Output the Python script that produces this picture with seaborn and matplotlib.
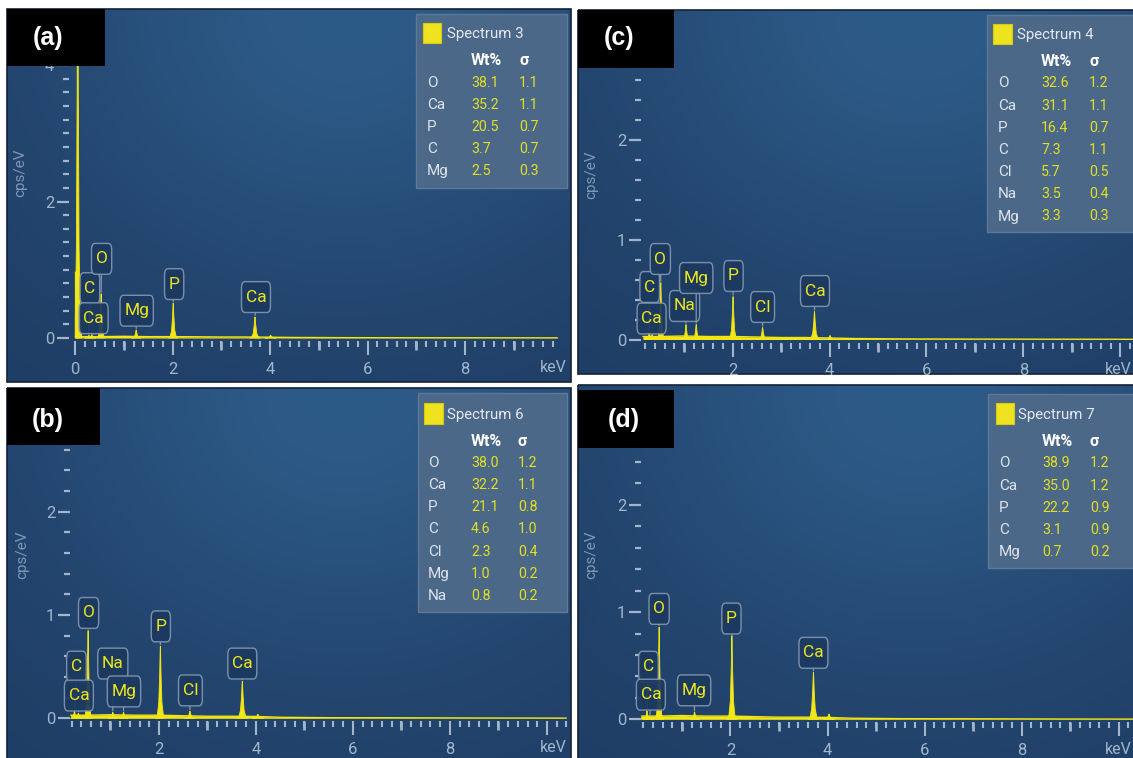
import numpy as np
import matplotlib
matplotlib.use("Agg")
import matplotlib.pyplot as plt
import matplotlib.transforms as mtransforms
from matplotlib.patches import Rectangle
from matplotlib.ticker import MultipleLocator, FuncFormatter
import seaborn as sns

sns.set_style("white")
plt.rcParams["font.family"] = ["Roboto", "DejaVu Sans"]

# ---------------- (a) Spectrum 3 ----------------
a_title = "Spectrum 3"
a_line_kev = [0.00, 0.05, 0.28, 0.34, 0.53, 1.25, 2.01, 3.69, 4.01]
a_line_cps = [0.97, 6.00, 0.04, 0.05, 0.65, 0.12, 0.51, 0.31, 0.04]
a_line_name = ["", "", "C", "Ca", "O", "Mg", "P", "Ca", ""]
a_bg_kev = [0.0, 0.5, 1.0, 1.5, 2.0, 2.5, 3.0, 3.5, 4.0, 4.5, 5.5, 7.0, 8.5, 9.9]
a_bg_cps = [0.02, 0.02, 0.025, 0.02, 0.02, 0.018, 0.015, 0.015, 0.012, 0.008, 0.005, 0.004, 0.003, 0.002]
a_elements = ["O", "Ca", "P", "C", "Mg"]
a_wt = [38.1, 35.2, 20.5, 3.7, 2.5]
a_sigma = [1.1, 1.1, 0.7, 0.7, 0.3]

# ---------------- (c) Spectrum 4 ----------------
c_title = "Spectrum 4"
c_line_kev = [0.28, 0.34, 0.52, 1.04, 1.25, 2.01, 2.62, 3.69, 4.01]
c_line_cps = [0.08, 0.05, 0.57, 0.15, 0.15, 0.43, 0.12, 0.28, 0.04]
c_line_name = ["C", "Ca", "O", "Na", "Mg", "P", "Cl", "Ca", ""]
c_bg_kev = [0.15, 0.5, 1.0, 1.5, 2.0, 2.5, 3.0, 3.5, 4.0, 4.5, 5.5, 7.0, 8.5, 10.3]
c_bg_cps = [0.03, 0.03, 0.035, 0.03, 0.03, 0.025, 0.02, 0.02, 0.015, 0.01, 0.006, 0.004, 0.003, 0.002]
c_elements = ["O", "Ca", "P", "C", "Cl", "Na", "Mg"]
c_wt = [32.6, 31.1, 16.4, 7.3, 5.7, 3.5, 3.3]
c_sigma = [1.2, 1.1, 0.7, 1.1, 0.5, 0.4, 0.3]

# ---------------- (b) Spectrum 6 ----------------
b_title = "Spectrum 6"
b_line_kev = [0.26, 0.34, 0.54, 1.05, 1.27, 2.03, 2.64, 3.72, 4.04]
b_line_cps = [0.07, 0.05, 0.85, 0.06, 0.06, 0.70, 0.07, 0.36, 0.04]
b_line_name = ["C", "Ca", "O", "Na", "Mg", "P", "Cl", "Ca", ""]
b_bg_kev = [0.18, 0.5, 1.0, 1.5, 2.0, 2.5, 3.0, 3.5, 4.0, 4.5, 5.5, 7.0, 8.5, 10.4]
b_bg_cps = [0.03, 0.03, 0.035, 0.03, 0.03, 0.025, 0.02, 0.02, 0.018, 0.01, 0.006, 0.005, 0.003, 0.002]
b_elements = ["O", "Ca", "P", "C", "Cl", "Mg", "Na"]
b_wt = [38.0, 32.2, 21.1, 4.6, 2.3, 1.0, 0.8]
b_sigma = [1.2, 1.1, 0.8, 1.0, 0.4, 0.2, 0.2]

# ---------------- (d) Spectrum 7 ----------------
d_title = "Spectrum 7"
d_line_kev = [0.28, 0.34, 0.53, 1.26, 2.03, 3.71, 4.03]
d_line_cps = [0.08, 0.03, 0.86, 0.07, 0.78, 0.44, 0.05]
d_line_name = ["C", "Ca", "O", "Mg", "P", "Ca", ""]
d_bg_kev = [0.15, 0.5, 1.0, 1.5, 2.0, 2.5, 3.0, 3.5, 4.0, 4.5, 5.5, 7.0, 8.5, 10.3]
d_bg_cps = [0.03, 0.03, 0.035, 0.03, 0.03, 0.025, 0.02, 0.02, 0.018, 0.01, 0.006, 0.005, 0.003, 0.002]
d_elements = ["O", "Ca", "P", "C", "Mg"]
d_wt = [38.9, 35.0, 22.2, 3.1, 0.7]
d_sigma = [1.2, 1.2, 0.9, 0.9, 0.2]

# ---------------- styling ----------------
FIG_W, FIG_H = 1133, 758
YELLOW = "#f2e614"
LABEL_YELLOW = "#ece51c"
TICK = "#a3b5ca"
YLABEL = "#7d98b5"
CALLOUT_FC = "#1c3a60"
CALLOUT_EC = "#8397ae"
TABLE_BG = "#4b6889"
TABLE_EDGE = "#5d7898"
VALUE_YELLOW = "#e3df22"
NAME_GREY = "#dce3eb"

# spike outline used for every emission line (relative units)
SHAPE_X = np.array([-1, -0.6, -0.32, -0.14, -0.04, 0, 0.04, 0.14, 0.32, 0.6, 1])
SHAPE_Y = np.array([0, 0.05, 0.22, 0.6, 0.93, 1, 0.93, 0.6, 0.22, 0.05, 0])

LAYOUT = {
    "a": dict(frame=(7, 9, 571, 382), tag=(7, 9, 105, 66), tag_xy=(33, 38.5),
              zero_px=(75.3, 338.0), scale=(48.7, 68.25), axes_px=(69, 30, 558, 341), ymajor=2,
              ylabel_xy=(20, 173), kev_xy=(567, 368),
              table_box=(416, 14, 567, 188), swatch=(423, 23, 441, 43), title_xy=(447, 34),
              header_y=60.5, row0=82.7, row_step=22.1, cols=(427, 471, 519),
              boxes=[(0.30, 0.73), (0.376, 0.29), (0.54, 1.16), (1.26, 0.40), (2.03, 0.79), (3.71, 0.60)]),
    "c": dict(frame=(578, 10, 1140, 374), tag=(578, 10, 674, 68), tag_xy=(604, 38.5),
              zero_px=(635.6, 339.5), scale=(48.48, 100.0), axes_px=(641, 70, 1133, 342.5), ymajor=1,
              ylabel_xy=(591.5, 175), kev_xy=(1132, 370),
              table_box=(987, 15, 1140, 232), swatch=(993, 24, 1012, 44), title_xy=(1017, 35),
              header_y=61.7, row0=83.3, row_step=22.2, cols=(998, 1041, 1089),
              boxes=[(0.29, 0.525), (0.33, 0.21), (0.51, 0.805), (1.01, 0.335), (1.25, 0.615),
                     (2.02, 0.635), (2.62, 0.325), (3.70, 0.485)]),
    "b": dict(frame=(7, 388, 571, 762), tag=(7, 388, 100, 445), tag_xy=(32, 420),
              zero_px=(61.9, 718.3), scale=(48.5, 103.3), axes_px=(70, 447, 568, 721.3), ymajor=1,
              ylabel_xy=(22, 555), kev_xy=(567, 748),
              table_box=(418, 393, 567, 612), swatch=(424, 403, 443, 424), title_xy=(447, 415),
              header_y=441, row0=462.7, row_step=22.2, cols=(428, 471, 518),
              boxes=[(0.30, 0.50), (0.35, 0.22), (0.55, 1.02), (1.05, 0.53), (1.28, 0.26),
                     (2.04, 0.89), (2.65, 0.27), (3.72, 0.53)]),
    "d": dict(frame=(578, 385, 1140, 762), tag=(578, 390, 674, 448), tag_xy=(607.7, 420),
              zero_px=(633.4, 719.3), scale=(48.53, 107.2), axes_px=(641, 450, 1133, 722.3), ymajor=1,
              ylabel_xy=(591.5, 555), kev_xy=(1132, 749),
              table_box=(988, 394, 1140, 568), swatch=(995.5, 403, 1014, 424), title_xy=(1018, 415),
              header_y=441.7, row0=463.3, row_step=22.25, cols=(999, 1042, 1090),
              boxes=[(0.31, 0.49), (0.36, 0.23), (0.53, 1.03), (1.25, 0.27), (2.02, 0.94), (3.71, 0.62)]),
}

PANELS = [
    ("a", a_title, a_line_kev, a_line_cps, a_line_name, a_bg_kev, a_bg_cps, a_elements, a_wt, a_sigma),
    ("c", c_title, c_line_kev, c_line_cps, c_line_name, c_bg_kev, c_bg_cps, c_elements, c_wt, c_sigma),
    ("b", b_title, b_line_kev, b_line_cps, b_line_name, b_bg_kev, b_bg_cps, b_elements, b_wt, b_sigma),
    ("d", d_title, d_line_kev, d_line_cps, d_line_name, d_bg_kev, d_bg_cps, d_elements, d_wt, d_sigma),
]

fig = plt.figure(figsize=(FIG_W / 100, FIG_H / 100), dpi=100)
fig.patch.set_facecolor("white")

bg = fig.add_axes([0, 0, 1, 1], zorder=0)
ov = fig.add_axes([0, 0, 1, 1], zorder=3)


def panel_gradient(w, h):
    u = np.linspace(0, 1, w)[None, :]
    v = np.linspace(0, 1, h)[:, None]
    glow = np.exp(-((u - 0.6) ** 2) / 0.3 - (v ** 2) / 0.55)
    dark = np.array([31, 61, 101]) / 255.0
    light = np.array([45, 91, 136]) / 255.0
    return dark + (light - dark) * glow[..., None]


for key, title, line_kev, line_cps, line_name, bg_kev, bg_cps, elements, wt, sigma in PANELS:
    cfg = LAYOUT[key]

    # panel background and frame
    fx0, fy0, fx1, fy1 = cfg["frame"]
    img = panel_gradient(int(fx1 - fx0), int(fy1 - fy0))
    bg.imshow(img, extent=(fx0, fx1, fy1, fy0), interpolation="bilinear", aspect="auto", zorder=0)
    bg.add_patch(Rectangle((fx0, fy0), fx1 - fx0, fy1 - fy0, fc="none", ec="#13233a", lw=1.2, zorder=1))

    # spectrum axes
    L, T, R, B = cfg["axes_px"]
    x0, y0 = cfg["zero_px"]
    kx, ky = cfg["scale"]
    ax = fig.add_axes([L / FIG_W, 1 - B / FIG_H, (R - L) / FIG_W, (B - T) / FIG_H], zorder=1)
    ax.patch.set_alpha(0)
    xlim = ((L - x0) / kx, (R - x0) / kx)
    ylim = ((y0 - B) / ky, (y0 - T) / ky)

    # continuum under the lines
    ax.fill_between(bg_kev, 0, bg_cps, color=YELLOW, lw=0, zorder=2)
    sns.lineplot(x=bg_kev, y=bg_cps, ax=ax, color=YELLOW, linewidth=1.0, zorder=2)

    # emission lines
    start = bg_kev[0]
    for e, h in zip(line_kev, line_cps):
        hw = 0.085 + 0.008 * e
        xs = np.clip(e + hw * SHAPE_X, start, None)
        ax.fill(xs, h * SHAPE_Y, color=YELLOW, lw=0.6, zorder=3)

    # callout labels
    labelled = [(n, e, h) for n, e, h in zip(line_name, line_kev, line_cps) if n]
    for (name, e, h), (lx, ly) in zip(labelled, cfg["boxes"]):
        ann = ax.annotate(name, xy=(e, h), xytext=(lx, ly), textcoords="data",
                          ha="center", va="center", fontsize=12.5, color=LABEL_YELLOW,
                          bbox=dict(boxstyle="round,pad=0.24,rounding_size=0.2",
                                    mutation_aspect=1.9,
                                    fc=CALLOUT_FC, ec=CALLOUT_EC, lw=1.0, alpha=0.93),
                          arrowprops=dict(arrowstyle="-", color=CALLOUT_EC, lw=0.9,
                                          shrinkA=0, shrinkB=1),
                          annotation_clip=False, zorder=5)
        ann.set_clip_on(True)

    # axes decorations
    for s in ax.spines.values():
        s.set_visible(False)
    ax.set_xlim(*xlim)
    ax.set_ylim(*ylim)
    ax.xaxis.set_major_locator(MultipleLocator(2))
    ax.xaxis.set_minor_locator(MultipleLocator(0.2))
    ax.xaxis.set_major_formatter(FuncFormatter(lambda v, p: f"{v:g}" if v < 9 else ""))
    ax.yaxis.set_major_locator(MultipleLocator(cfg["ymajor"]))
    ax.yaxis.set_minor_locator(MultipleLocator(0.2))
    ax.yaxis.set_major_formatter(FuncFormatter(lambda v, p: f"{v:g}"))
    ax.tick_params(axis="both", which="both", bottom=True, left=True, top=False, right=False)
    ax.tick_params(axis="x", which="major", direction="out", length=10, width=1.5,
                   color=TICK, labelcolor=TICK, labelsize=12, pad=5)
    ax.tick_params(axis="x", which="minor", direction="out", length=4.3, width=1.5, color=TICK)
    ax.tick_params(axis="y", which="major", direction="out", length=8.6, width=1.6,
                   color=TICK, labelcolor=TICK, labelsize=12, pad=2)
    ax.tick_params(axis="y", which="minor", direction="out", length=4.6, width=1.6, color=TICK)
    ax.set_xlabel("")
    ax.set_ylabel("")

    # medium ticks on odd keV
    trans = mtransforms.blended_transform_factory(ax.transData, ax.transAxes)
    odd = [v for v in range(1, 12, 2) if xlim[0] <= v <= xlim[1]]
    ax.vlines(odd, 0, -9.0 / (B - T), transform=trans, colors=TICK, lw=2.0, clip_on=False)
    ax.set_xlim(*xlim)
    ax.set_ylim(*ylim)

    # y label and unit
    ov.text(*cfg["ylabel_xy"], "cps/eV", rotation=90, ha="center", va="center",
            fontsize=11, color=YLABEL)
    ov.text(*cfg["kev_xy"], "keV", ha="right", va="center", fontsize=11.5, color=TICK)

    # panel tag
    tx0, ty0, tx1, ty1 = cfg["tag"]
    ov.add_patch(Rectangle((tx0, ty0), tx1 - tx0, ty1 - ty0, fc="black", ec="none"))
    ov.text(*cfg["tag_xy"], f"({key})", ha="left", va="center", fontsize=18,
            fontweight="bold", color="white", family=["Liberation Sans", "DejaVu Sans"])

    # quantification table
    bx0, by0, bx1, by1 = cfg["table_box"]
    ov.add_patch(Rectangle((bx0, by0), bx1 - bx0, by1 - by0, fc=TABLE_BG, ec=TABLE_EDGE, lw=1.0))
    sx0, sy0, sx1, sy1 = cfg["swatch"]
    ov.add_patch(Rectangle((sx0, sy0), sx1 - sx0, sy1 - sy0, fc="#efe21e", ec="#d8cc10", lw=0.8))
    ov.text(*cfg["title_xy"], title, ha="left", va="center", fontsize=10.8, color="#e3e8ee")
    ce, cv, cs = cfg["cols"]
    ov.text(cv, cfg["header_y"], "Wt%", ha="left", va="center", fontsize=11.5,
            fontweight="bold", color="white")
    ov.text(cs, cfg["header_y"], "σ", ha="left", va="center", fontsize=11.5,
            fontweight="bold", color="white")
    for i, (el, w, s) in enumerate(zip(elements, wt, sigma)):
        y = cfg["row0"] + i * cfg["row_step"]
        ov.text(ce, y, el, ha="left", va="center", fontsize=11, color=NAME_GREY)
        ov.text(cv, y, f"{w:.1f}", ha="left", va="center", fontsize=10.2, color=VALUE_YELLOW)
        ov.text(cs, y, f"{s:.1f}", ha="left", va="center", fontsize=10.2, color=VALUE_YELLOW)

for a in (bg, ov):
    a.set_xlim(0, FIG_W)
    a.set_ylim(FIG_H, 0)
    a.axis("off")

fig.savefig("out.png", dpi=100, facecolor="white")
